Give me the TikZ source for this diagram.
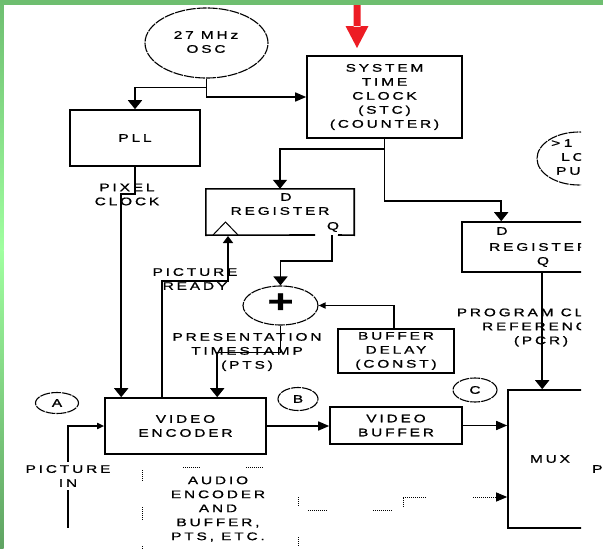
\documentclass[tikz,border=0pt]{standalone}
\usepackage{fontspec}
\setmainfont{Liberation Sans}[FakeStretch=1.4,LetterSpace=26,FakeBold=1]
\usetikzlibrary{arrows.meta,shapes.geometric}
\definecolor{redarrow}{HTML}{ED1C24}
\definecolor{frameTop}{HTML}{6EBE70}
\definecolor{frameMid}{HTML}{A0FFA0}
\definecolor{frameBot}{HTML}{5FA362}
\begin{document}
\begin{tikzpicture}[x=1pt,y=-1pt,
  every node/.style={font=\fontsize{11}{14}\selectfont, align=center, inner sep=0pt},
  box/.style={draw, line width=1.6pt, inner sep=0pt},
  ln/.style={line width=1.6pt},
  av/.style={ln, -{Triangle[length=9pt,width=14pt]}},
  avs/.style={ln, -{Triangle[length=7pt,width=10pt]}},
  ah/.style={ln, -{Triangle[length=11pt,width=9pt]}},
  asm/.style={ln, -{Triangle[length=7pt,width=6pt]}},
  ell/.style={draw, ellipse, line width=1.1pt, dash pattern=on 10pt off 1pt, inner sep=0pt},
  dt/.style={line width=1pt, dash pattern=on 1pt off 1pt},
]
\useasboundingbox (0,0) rectangle (603,549);
\fill[white] (0,0) rectangle (603,549);
\begin{scope}
\clip (0,0) rectangle (581,549);
% nodes
\node[ell, minimum width=123, minimum height=70] (osc) at (206.5,43) {};
\node (osct) at (206,42) {27 MHz\\OSC};
\node[box, minimum width=130, minimum height=56] (pll) at (135,138) {PLL};
\node[box, minimum width=155, minimum height=82] (stc) at (384.5,97) {SYSTEM\\TIME\\CLOCK\\(STC)\\(COUNTER)};
% register 1 (drawn by hand: gap in bottom edge)
\node[minimum width=148, minimum height=46] (r1) at (280,212) {};
\draw[ln] (315,235) -- (r1.south west) -- (r1.north west) -- (r1.north east) -- (r1.south east) -- (338,235);
\draw[line width=1pt] (213,235) -- (225.5,222) -- (238,235);
\coordinate (clk) at (228,236);
\node (r1d) at (286,197) {D};
\node (r1t) at (280,211) {REGISTER};
\node (r1q) at (333,227) {Q};
% register 2
\node[box, minimum width=158, minimum height=50] (r2) at (541,247) {};
\node (r2d) at (502,231) {D};
\node[anchor=west] (r2t) at (489,247) {REGISTER};
\node (r2q) at (543,262) {Q};
% plus
\node[ell, minimum width=75, minimum height=39] (plus) at (280.5,305.5) {};
\node (plust) at (280.5,303) {\fontsize{32}{32}\selectfont\bfseries +};
% buffer delay
\node[box, minimum width=116, minimum height=44] (bd) at (396,351) {BUFFER\\DELAY\\(CONST)};
% encoder, buffer, mux
\node[box, minimum width=161, minimum height=56] (enc) at (185.5,426) {VIDEO\\ENCODER};
\node[box, minimum width=132, minimum height=37] (vb) at (396,425.5) {VIDEO\\BUFFER};
\node[box, minimum width=84, minimum height=138] (mux) at (550,459) {MUX};
% circles
\node[ell, minimum width=43, minimum height=21] (ca) at (57,403) {A};
\node[ell, minimum width=40, minimum height=23] (cb) at (298,399) {B};
\node[ell, minimum width=44, minimum height=24] (cc) at (475,390) {C};
\node[ell, minimum width=84, minimum height=53] (cl) at (579,158.5) {};
\node[anchor=west] (cl1) at (551,143) {>\,\,1};
\node[anchor=west] (cl2) at (561,157) {LO};
\node[anchor=west] (cl3) at (556,171) {PU};
% labels
\node (pix) at (127,194.5) {PIXEL\\CLOCK};
\node (prd) at (195,279) {PICTURE\\READY};
\node (pts) at (247,352) {PRESENTATION\\TIMESTAMP\\(PTS)};
\node (pcr) at (541,327.5) {PROGRAM CLOCK\\REFERENCE\\(PCR)};
\node[inner ysep=3pt] (pin) at (68,476) {PICTURE\\IN};
\node (aud) at (218,509) {AUDIO\\ENCODER\\AND\\BUFFER,\\PTS, ETC.};
\coordinate (pinend) at (68,528);
% connectors
\draw[av] (osc.south) -- ++(0,9) -| (pll.north);
\draw[ah] (osc.south) |- (stc.west);
\draw[av] (stc.south) -- ++(0,10) -| (r1.north);
\draw[av] (stc.south) -- ++(0,62) -| ([xshift=40pt]r2.north west);
\draw[av] ([xshift=81pt]r2.south west) -- ([xshift=35pt]mux.north west);
\draw[av] (pll.south) -- ++(0,27) -| ([xshift=17pt]enc.north west);
\draw[avs] ([xshift=58pt]enc.north west) -- ++(0,-116) -| (clk);
\draw[av] ([xshift=126pt]r1.south west) -- ++(0,26) -| (plus.north);
\draw[av] (plus.south) -- ++(0,27) -| ([xshift=113pt]enc.north west);
\draw[asm] ([xshift=57pt]bd.north west) |- (plus.east);
\draw[ah] (enc.east) -- (enc.east -| vb.west);
\draw[ah] (vb.east) -- (vb.east -| mux.west);
\draw[asm] (pin.north) |- (enc.west);
\draw[ln] (pin.south) -- (pinend);
% dotted audio path
\draw[dt] (142,470) -- (142,482);
\draw[dt] (142,507) -- (142,520);
\draw[dt] (142,546) -- (142,549);
\draw[dt] (183,467) -- (200,467);
\draw[dt] (246,467) -- (264,467);
\draw[dt] (298,497) -- (298,507);
\draw[dt] (298,537) -- (298,547);
\draw[dt] (308,510) -- (328,510);
\draw[dt] (373,510) -- (392,510);
\draw[dt] (403,507) -- (403,497) -- (427,497);
\coordinate (dstart) at (473,497);
\draw[dt, -{Triangle[length=11pt,width=9pt]}] (dstart) -- (dstart -| mux.west);
\end{scope}
\node[anchor=west] (pout) at (592,469) {P};
% red arrow
\fill[redarrow] (353.5,0) rectangle (360.5,27) (345.5,26) -- (368.5,26) -- (357,48) -- cycle;
% green frame
\fill[frameTop] (0,0) rectangle (603,4.5);
\shade[top color=frameTop, bottom color=frameMid] (0,0) rectangle (3.5,250);
\shade[top color=frameMid, bottom color=frameBot] (0,250) rectangle (3.5,549);
\end{tikzpicture}
\end{document}
